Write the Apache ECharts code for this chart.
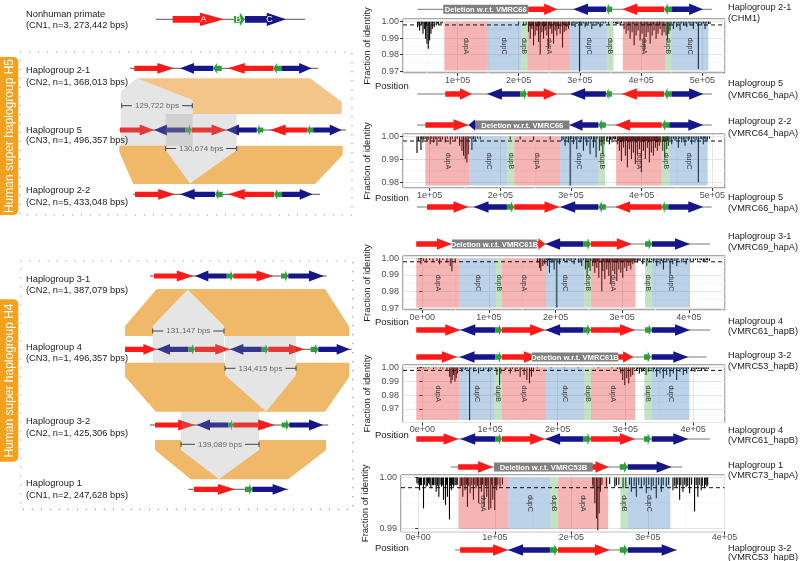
<!DOCTYPE html>
<html><head><meta charset="utf-8">
<script src="https://cdn.jsdelivr.net/npm/echarts@6/dist/echarts.min.js"></script>
<style>html,body{margin:0;padding:0;background:#fff}#c{width:800px;height:561px}</style>
</head><body><div id="c"></div>
<script>
// ================= DATA =================
// ---- right panels: identity bars [position bp, fraction of identity] ----
const P1_BARS = [
[34800,.9966],[38100,.9946],[40800,.9976],[43500,.9926],[45700,.9956],[47900,.9896],[50100,.9866],[52200,.9836],[54400,.9886],[56600,.9926],[58800,.9956],[62000,.9966],[65300,.9976],[69100,.998],[72900,.9986],
[36000,.9988],[42000,.999],[49000,.9985],[60000,.999],[67000,.9988],[75000,.999],
[199700,.9986],[207900,.9976],[212200,.998],
[216000,.9936],[218800,.9896],[221500,.9956],[224200,.9856],[226900,.9916],[229700,.9946],[232400,.9876],[235100,.980],[237800,.9936],[240500,.9896],[243300,.9946],[246000,.9916],[248700,.9836],[251400,.9956],[254100,.9926],[256900,.9866],[259600,.9946],[262300,.9916],[265000,.9956],[267700,.9926],[271600,.9842],[274300,.9936],[277500,.9946],[281400,.9956],
[217000,.9975],[220000,.997],[223000,.998],[228000,.9975],[231000,.997],[234000,.9978],[239000,.9975],[242000,.997],[245000,.998],[250000,.9975],[253000,.997],[258000,.9978],[261000,.997],[264000,.9975],[269000,.997],[273000,.998],[276000,.9975],[279000,.997],[283000,.998],
[286800,.9976],[292200,.9966],[299300,.9697],[303100,.9976],[308600,.9966],[314000,.9986],[319400,.9956],[327600,.9976],[333100,.9966],
[288500,.9988],[290000,.999],[295000,.9985],[297000,.999],[301000,.9988],[306000,.999],[311000,.9985],[317000,.999],[322000,.9988],[325000,.999],[330000,.9985],[336000,.999],[339000,.9988],[342000,.999],
[346700,.998],[355000,.999],[358000,.9988],[360300,.9986],[362000,.9985],[365700,.9976],[368000,.999],
[372200,.9956],[375500,.9926],[378800,.9946],[382000,.9896],[385300,.9936],[388600,.9856],[391800,.9916],[395100,.9946],[398400,.9886],[401600,.9926],[404900,.9826],[408200,.9906],[411400,.9936],[414700,.9866],[418000,.9916],[421200,.9946],[424500,.9896],[427700,.9926],[431000,.9956],[434300,.9916],[437500,.9936],
[380000,.998],[387000,.9985],[393000,.998],[400000,.9982],[406000,.998],[410000,.9975],[416000,.998],[420000,.9982],[426000,.998],[430000,.9978],[436000,.998],
[440800,.9916],[443000,.9886],[445200,.9926],[447300,.9946],
[452800,.9956],[458200,.9966],[463700,.9946],[469100,.9976],[474600,.9966],[480000,.9976],[485400,.9956],[493600,.9712],[499000,.9976],[504500,.9956],[512600,.9986],
[449000,.9985],[455000,.999],[461000,.9988],[466000,.999],[472000,.9985],[478000,.999],[483000,.9988],[488000,.999],[491000,.9985],[496000,.999],[502000,.9988],[507000,.999],[510000,.9985]
];
const P2_BARS = [
[82100,.9928],[84400,.998],[87700,.9941],[90500,.9973],
[96200,.998],[100900,.9966],[105600,.9973],[110300,.9959],[115000,.998],[122100,.9973],[129200,.9966],[136200,.998],[142400,.9959],[145700,.9937],[148000,.9915],[150400,.9901],[152700,.9886],[154600,.9922],
[159800,.9941],[164500,.998],[171600,.9987],[214000,.9987],[228100,.9987],[247000,.9983],[270500,.9987],
[287000,.998],[291700,.9959],[296400,.9973],[298800,.9785],[303500,.9966],[308200,.9944],[312900,.9973],[317600,.9937],[322300,.9959],[327000,.9922],[331800,.9951],[335500,.9908],
[340200,.9937],[342600,.9959],[345000,.9922],[346800,.9966],
[350600,.998],[354400,.9966],[358100,.9973],[361900,.9987],
[365700,.9966],[368500,.9937],[371300,.9893],[374200,.9951],[377000,.9915],[379800,.9864],[382600,.9944],[385500,.9901],[388300,.993],[391100,.9879],[393900,.9922],[396800,.9944],[399600,.9843],[402400,.9937],[405200,.9901],[408100,.9951],[410900,.9886],[413700,.993],[416600,.9915],[419400,.9951],[422200,.9937],[425000,.9959],
[429700,.9937],[432600,.9908],[435400,.9944],[437800,.9959],
[442500,.9966],[447200,.998],[451900,.9951],[456600,.9973],[461300,.9959],[466000,.998],[470700,.9966],[475400,.9973],[480200,.9799],[487200,.9966],[491000,.998],
[88000,.999],[92000,.9988],[94500,.999],[98000,.9985],[103000,.999],[108000,.9988],[113000,.999],[118000,.9985],[125000,.999],[132000,.9988],[139000,.999],[157000,.999],[162000,.9988],[168000,.999],
[289000,.9985],[294000,.999],[299500,.9988],[301000,.999],[306000,.9985],[310000,.999],[315000,.9988],[320000,.9985],[325000,.999],[329000,.9988],[333000,.9985],[337000,.999],[343000,.9985],[347000,.998],[352000,.999],[356000,.9985],[360000,.999],[363000,.9988],
[367000,.998],[370000,.9975],[373000,.998],[376000,.9978],[378500,.998],[381000,.9975],[384000,.998],[387000,.9978],[390000,.998],[392500,.9975],[395500,.998],[398000,.9975],[401000,.998],[404000,.9978],[407000,.998],[409500,.9975],[412000,.998],[415000,.9978],[418000,.998],[421000,.9975],[424000,.998],[427000,.9975],[431000,.998],[434000,.9978],[436500,.998],
[440000,.9985],[445000,.999],[449000,.9988],[454000,.999],[459000,.9985],[464000,.999],[468000,.9988],[473000,.999],[478000,.9985],[483000,.999],[485000,.9988],[489000,.999],[493000,.9985],[496000,.999]
];
const P3_BARS = [
[-5500,.9995],[-2000,.9965],[2000,.9985],[6000,.9975],[11000,.9991],[16000,.9979],[22000,.9985],[26000,.9965],[31000,.9991],[37000,.9975],[42000,.9955],[44500,.9922],[49500,.9975],
[172900,.9975],[175900,.9944],[177900,.9924],[180900,.9955],[183900,.9965],
[187900,.9955],[190900,.9914],[194400,.9975],[197900,.9934],[201900,.9703],[205900,.9965],[211900,.9985],[216900,.9975],[221900,.9985],[227900,.9965],[234400,.9975],[239400,.9955],
[244900,.9934],[247400,.9894],[249900,.9944],[251900,.9924],
[255900,.9955],[258900,.9914],[261900,.9944],[264900,.9884],[269400,.9801],[270900,.9924],[273900,.9874],[276900,.9934],[279900,.9894],[282900,.9844],[285900,.9924],[288900,.9904],[291900,.9864],[294900,.9934],[297900,.9914],[300900,.9884],[303900,.9944],[306900,.9924],[309900,.9955],[312900,.9934],[315900,.9965],[318900,.9975],
[322900,.9975],[326900,.9985],[330900,.9965],
[336900,.9955],[340900,.9975],
[346900,.9975],[351900,.9955],[356900,.9965],[361900,.9934],[366900,.9975],[371900,.9902],[375900,.9965],[381900,.9955],[389400,.9975],[395900,.9965],
[406800,.9985],[416800,.9991],[421800,.9979],[426800,.9991],[430800,.9985],
[186000,.999],[189500,.9988],[192500,.999],[196000,.9985],[199500,.999],[203500,.9988],[208000,.999],[213000,.9985],[219000,.999],[224000,.9988],[230000,.999],[237000,.9985],[242000,.999],[246000,.998],
[253000,.9985],[257000,.998],[260000,.9975],[263000,.998],[266500,.9975],[272000,.998],[275500,.9975],[278000,.998],[281000,.9975],[284500,.998],[287500,.9978],[290500,.998],[293000,.9975],[296500,.998],[299500,.9978],[302500,.998],[305500,.9978],[308500,.998],[311500,.9985],[314500,.998],[317500,.9985],[320500,.999],
[325000,.9988],[333000,.999],[338000,.9985],[344000,.999],[349000,.9988],[354000,.999],[359000,.9985],[364000,.999],[369000,.9988],[374000,.999],[379000,.9985],[384000,.999],[392000,.9988],[398000,.999],[402000,.9985],[410000,.999],[413000,.9988],[419000,.999],[424000,.9985],[428000,.999]
];
const P4_BARS = [
[-6900,.999],[-2900,.9995],
[2000,.9994],[9300,.9995],[16700,.999],[26600,.9994],[36400,.9982],[40300,.9934],[42300,.9885],[44200,.991],[46200,.9946],[48200,.9897],[50100,.9922],[52100,.9958],
[58500,.997],[63400,.9982],[69800,.9618],[75700,.997],[83100,.9958],[90500,.9975],[97800,.997],[102700,.9982],
[110100,.9946],[114100,.9873],[116000,.9958],
[122400,.9982],[129800,.9958],[137200,.997],[144500,.9934],[150400,.9946],[154400,.991],[158300,.9885],[161200,.9934],[164200,.997],
[293000,.9958],[295900,.991],[298900,.9873],[301900,.9922],[304800,.9885],[307800,.9934],[310700,.9946],
[316600,.9982],[320500,.9958],[324000,.997],[326400,.9975],
[330400,.9946],[333800,.997],
[341200,.997],[346100,.9934],[351000,.9958],[355900,.9922],[360800,.9946],[365800,.9934],[370700,.9958],[375600,.991],[380500,.997],[385400,.9946],[390300,.9958],
[397700,.9982],[402600,.997],[407500,.999],[412500,.9975],[417400,.9982],[422300,.999],
[5000,.9995],[20000,.9995],[30000,.9992],[56000,.999],[60000,.9992],[66000,.999],[72000,.9992],[78000,.999],[86000,.9992],[94000,.999],[100000,.9992],[108000,.999],[125000,.9992],[133000,.999],[140000,.9992],[147000,.999],
[170000,.9995],[190000,.9995],[210000,.9995],[230000,.9995],[260000,.9995],[280000,.9995],[288000,.999],[291000,.9992],[313000,.999],[318000,.999],[322000,.9992],[328000,.999],[336000,.9992],[339000,.999],
[343000,.999],[348000,.9992],[353000,.999],[358000,.9992],[363000,.999],[368000,.9992],[373000,.999],[378000,.9992],[383000,.999],[388000,.9992],[393000,.999],[400000,.9992],[405000,.999],[410000,.9992],[415000,.999],[420000,.9992]
];
const P5_BARS = [
[-1700,.9989],[1700,.9975],[4300,.9985],[6900,.9939],[10400,.9982],[13500,.9989],[16500,.9979],[20000,.9985],[23400,.9972],[26900,.9962],[30400,.9982],[33000,.9956],[35600,.9946],[38200,.9962],[40800,.9917],[43400,.9975],[46000,.9982],[49500,.9985],
[54700,.9982],[58200,.9962],[61200,.9975],[64300,.9942],[67800,.9969],[72100,.9956],[75600,.9979],[79000,.9949],[82500,.9972],[86000,.9942],[89500,.9962],[92100,.9936],[94700,.9939],[97300,.9956],[99900,.9936],[102500,.9975],[106800,.9982],
[228400,.9979],[230600,.9949],[232800,.9919],[234500,.9896],[236300,.9929],[238000,.9972],[245800,.9982],
[256700,.9982],[258800,.9985],[267500,.9979],[271000,.9982],
[278400,.9972],[284900,.9962],[291400,.9979],[297900,.9969],[304400,.9975],[310900,.9959],[317500,.9972],[324000,.9982],
[332700,.9975],[337000,.9979],[341400,.9956],[345700,.9972],[350000,.9982],[354400,.9969],[360900,.9933],[365200,.9962],[369600,.9975],[373900,.9979],[377000,.9982],
[0,.9986],[3000,.9985],[8000,.9986],[12000,.9984],[15000,.9986],[18500,.9985],[22000,.9986],[25000,.9984],[28500,.9986],[32000,.9985],[37000,.9986],[42000,.9984],[45000,.9986],[48000,.9985],[51000,.9986],
[56500,.9984],[60000,.9985],[63000,.9986],[66000,.9984],[70000,.9985],[74000,.9986],[77500,.9984],[81000,.9985],[84000,.9986],[88000,.9984],[91000,.9985],[96000,.9986],[101000,.9984],[104000,.9986],[110000,.9986],
[228000,.9986],[240000,.9986],[250000,.9987],[262000,.9986],[276000,.9986],[282000,.9984],[288000,.9986],[295000,.9985],[301000,.9986],[307000,.9984],[314000,.9986],[320000,.9985],[327000,.9986],
[335000,.9984],[339000,.9986],[343000,.9985],[348000,.9986],[352000,.9984],[357000,.9986],[363000,.9985],[367000,.9986],[371000,.9984],[375500,.9986],[378000,.9985]
];

// ---- duplicon rectangles [start, end, name] ----
const P1_DUPS = [[78400,148100,'dupA'],[148100,203600,'dupC'],[203600,214400,'dupB'],[214400,284100,'dupA'],[284100,344000,'dupC'],[344000,354800,'dupB'],[370100,439200,'dupA'],[439200,450100,'dupB'],[450100,509900,'dupC']];
const P2_DUPS = [[93900,156500,'dupA'],[156500,210200,'dupC'],[210200,219700,'dupB'],[219700,284700,'dupA'],[284700,338800,'dupC'],[338800,348300,'dupB'],[363800,428400,'dupA'],[428400,439200,'dupB'],[439200,493400,'dupC']];
const P3_DUPS = [[-9000,55900,'dupA'],[55900,110500,'dupC'],[110500,119500,'dupB'],[119500,185900,'dupA'],[185900,243300,'dupC'],[243300,253400,'dupB'],[253400,319800,'dupA'],[334300,344400,'dupB'],[344400,401300,'dupC']];
const P4_DUPS = [[-8850,55000,'dupA'],[55000,106600,'dupC'],[106600,117500,'dupB'],[117500,182400,'dupA'],[182400,238900,'dupC'],[238900,249300,'dupB'],[249300,314200,'dupA'],[327900,338800,'dupB'],[338800,394300,'dupC']];
const P5_DUPS = [[52500,117700,'dupA'],[117700,172900,'dupC'],[172900,182800,'dupB'],[182800,248000,'dupA'],[264100,274000,'dupB'],[274000,329300,'dupC']];
const DUP_MIN = [0.9703, 0.9785, 0.9703, 0.962, 0.9898];   // lower end of shaded rectangles
const THRESH = 0.998;

// ---- axis ranges ----
const X_RANGES = [[10900,537100],[62300,517900],[-28900,454300],[-28500,447000],[-22500,400000]];
const Y_RANGES = [[0.9688,1.0016],[0.97743,1.00107],[0.9688,1.0015],[0.9601,1.0019],[0.98929,1.00051]];
const X_MINOR = [[50000,150000,250000,350000,450000],[150000,250000,350000,450000],[50000,150000,250000,350000,450000],[50000,150000,250000,350000],[50000,150000,250000,350000]];
const Y_MINOR = [[0.975,0.985,0.995],[0.985,0.995],[0.975,0.985,0.995],[0.965,0.975,0.985,0.995],[0.995]];

// ---- gene tracks above / below panels [start, end, strand, kind, label] ----
const P1_TOP = [[34300,515900,0,'L'],[215500,262900,1,'A'],[289000,342900,-1,'C'],[342900,352700,-1,'B'],[369000,437600,-1,'A'],[437600,450600,-1,'B'],[450600,501200,1,'C'],[76700,215500,0,'D','Deletion w.r.t. VMRC66']];
const P1_BOT = [[34300,515900,0,'L'],[80000,123600,1,'A'],[148100,202400,-1,'C'],[202400,213400,1,'B'],[214400,262400,1,'A'],[284100,342400,-1,'C'],[342400,352200,-1,'B'],[368500,437600,-1,'A'],[437600,450100,-1,'B'],[450100,501700,1,'C']];
const P2_TOP = [[82100,499100,0,'L'],[93900,155000,1,'A'],[155000,176000,-1,'C'],[297800,338800,-1,'C'],[338800,349200,-1,'B'],[362400,428400,-1,'A'],[428400,439100,-1,'B'],[439100,487200,1,'C'],[164500,297800,0,'D','Deletion w.r.t. VMRC66']];
const P2_BOT = [[82100,499100,0,'L'],[96300,155000,1,'A'],[162100,209300,-1,'C'],[209300,219600,1,'B'],[219600,283700,1,'A'],[284700,338800,-1,'C'],[338800,349200,-1,'B'],[362400,428400,-1,'A'],[428400,437700,-1,'B'],[437700,487200,1,'C']];
const P3_TOP = [[-9000,431800,0,'L'],[-9000,44500,1,'A'],[162000,184400,1,'A'],[184400,241800,-1,'C'],[241800,252900,1,'B'],[252900,314400,1,'A'],[334300,344400,1,'B'],[344400,401800,1,'C'],[44500,172000,0,'D','Deletion w.r.t. VMRC61B']];
const P3_BOT = [[-9000,431800,0,'L'],[-9000,57000,1,'A'],[57000,109400,-1,'C'],[109400,119500,1,'B'],[119500,184400,1,'A'],[184400,241800,-1,'C'],[241800,252900,1,'B'],[252900,319300,1,'A'],[334300,344400,1,'B'],[344400,401800,1,'C']];
const P4_TOP = [[-8800,419900,0,'L'],[-8800,51200,1,'A'],[55000,107700,-1,'C'],[107700,117500,1,'B'],[117500,172000,1,'A'],[278000,311600,1,'A'],[327400,337300,1,'B'],[338800,392800,1,'C'],[161800,289500,0,'D','Deletion w.r.t. VMRC61B']];
const P4_BOT = [[-8800,424800,0,'L'],[-8800,53500,1,'A'],[56000,107700,-1,'C'],[107700,117500,1,'B'],[117500,181400,1,'A'],[181400,237900,-1,'C'],[237900,248800,1,'B'],[248800,314200,1,'A'],[327400,337300,1,'B'],[338800,392800,1,'C']];
const P5_TOP = [[42600,344900,0,'L'],[52100,97700,1,'A'],[210000,248900,1,'A'],[263200,273600,1,'B'],[273600,330900,1,'C'],[99000,228000,0,'D','Deletion w.r.t. VMRC53B']];
const P5_BOT = [[48200,337500,0,'L'],[54700,117300,1,'A'],[117300,172000,-1,'C'],[172000,182400,1,'B'],[182400,250200,1,'A'],[263200,273600,1,'B'],[273600,337500,1,'C']];

const RIGHT_NAMES = [
 [['Haplogroup 2-1','(CHM1)'],['Haplogroup 5','(VMRC66_hapA)']],
 [['Haplogroup 2-2','(VMRC64_hapA)'],['Haplogroup 5','(VMRC66_hapA)']],
 [['Haplogroup 3-1','(VMRC69_hapA)'],['Haplogroup 4','(VMRC61_hapB)']],
 [['Haplogroup 3-2','(VMRC53_hapB)'],['Haplogroup 4','(VMRC61_hapB)']],
 [['Haplogroup 1','(VMRC73_hapA)'],['Haplogroup 3-2','(VMRC53_hapB)']]
];

// ---- left schematic (schematic units) ----
const L_NHP = [[156,305,0,'L'],[172.7,224,1,'A'],[234,245,1,'B'],[245,286,1,'C']];
const L_H21 = [[130,318.3,0,'L'],[134.3,174,1,'A'],[180,213.3,-1,'C'],[213.3,221.7,-1,'B'],[227.7,273.3,-1,'A'],[273.3,281.7,-1,'B'],[281.7,311.7,1,'C']];
const L_H5  = [[119.3,346,0,'L'],[120,154,1,'A'],[154,185,-1,'C'],[185,191.7,1,'B'],[191.7,226,1,'A'],[226,256.7,-1,'C'],[256.7,263.3,-1,'B'],[270,307.3,-1,'A'],[307.3,313.3,-1,'B'],[313.3,341.7,1,'C']];
const L_H22 = [[133.3,320,0,'L'],[135,175,1,'A'],[180,215,-1,'C'],[215,222.7,-1,'B'],[227.7,274,-1,'A'],[274,281.7,-1,'B'],[281.7,312.7,1,'C']];
const L_H31 = [[150,326.7,0,'L'],[154,193.3,1,'A'],[195,226.7,-1,'C'],[226.7,233.3,1,'B'],[233.3,273.3,1,'A'],[281,288.3,1,'B'],[288.3,324,1,'C']];
const L_H4  = [[125,351.7,0,'L'],[125,156.7,1,'A'],[156.7,188.3,-1,'C'],[188.3,195,1,'B'],[195,230,1,'A'],[230,261.7,-1,'C'],[261.7,268.3,1,'B'],[268.3,304,1,'A'],[310.7,318.3,1,'B'],[318.3,350,1,'C']];
const L_H32 = [[150,328.3,0,'L'],[155,195,1,'A'],[196.7,228.3,-1,'C'],[228.3,233.3,1,'B'],[233.3,275,1,'A'],[281.7,289.3,1,'B'],[289.3,323.3,1,'C']];
const L_H1  = [[188.3,288.3,0,'L'],[194,235,1,'A'],[245,252.3,1,'B'],[252.3,287.3,1,'C']];
const L_TRACK_ROWS = [19.3, 68.3, 130, 194.3, 276, 349.3, 425, 489.3];
const L_NAMES = [
 ['Nonhuman primate','(CN1, n=3, 273,442 bps)'],
 ['Haplogroup 2-1','(CN2, n=1, 368,013 bps)'],
 ['Haplogroup 5','(CN3, n=1, 496,357 bps)'],
 ['Haplogroup 2-2','(CN2, n=5, 433,048 bps)'],
 ['Haplogroup 3-1','(CN2, n=1, 387,079 bps)'],
 ['Haplogroup 4','(CN3, n=1, 496,357 bps)'],
 ['Haplogroup 3-2','(CN2, n=1, 425,306 bps)'],
 ['Haplogroup 1','(CN1, n=2, 247,628 bps)']
];
const ORANGE_POLYS = [
 [[136.7,78.3],[310,78.3],[341.7,101.7],[341.7,114],[192.7,114],[192.7,100]],
 [[119.3,145.7],[165.7,145.7],[165.7,150],[190,183.5],[236.7,150],[236.7,145.7],[342.7,145.7],[342.7,155],[315,184],[133.3,184],[119.3,152]],
 [[125,336],[125,326],[156.7,289],[325,289],[349.3,326.7],[349.3,336],[224,336],[224,326],[187.7,289.6],[152.7,326],[152.7,336]],
 [[125,362.7],[225,362.7],[225,375],[266,411.4],[296,375],[296,362.7],[349.3,362.7],[349.3,376.7],[325,411.7],[156,411.7],[125,376.7]],
 [[155,440],[181,440],[181,450],[219,479],[259,450],[259,440],[326,440],[326,450],[288.3,479.3],[190.7,479.3],[155,450]]
];
const GRAY_POLYS = [
 [[120.7,91.7],[136.7,78.3],[192.7,100],[192.7,145.7],[120.7,145.7]],
 [[165.7,114],[236.7,114],[236.7,150],[190,183.5],[165.7,150]],
 [[152.7,326],[187.7,289.6],[224,326],[224,362.7],[152.7,362.7]],
 [[225,336],[296,336],[296,375],[266,411.4],[225,375]],
 [[181,411.7],[259,411.7],[259,450],[219,479],[181,450]]
];
const BRACKETS = [[121.7,192.3,105.7,'129,722 bps'],[165.7,236.7,148.5,'130,674 bps'],[152.7,224,331,'131,147 bps'],[225,296,368.3,'134,415 bps'],[181,259,444.3,'139,089 bps']];
const GROUP_LABELS = ['Human super haplogroup H5','Human super haplogroup H4'];

// ================= STYLE / LAYOUT =================
const FONT = '"Liberation Sans", Arial, Helvetica, sans-serif';
const COL = {A:'#FF1A1A', B:'#2E9E3A', C:'#16168A'};
const DUPFILL = {dupA:'rgba(232,60,60,0.38)', dupB:'rgba(90,180,90,0.36)', dupC:'rgba(70,130,190,0.36)'};
const ORANGE_FILLS = ['#F4C588','#F0B96A','#F0B96A','#F0B96A','#F0B96A'];
const BOXES = [[403,19,322,54],[403,134,322,54],[403,256,322,54],[403,365,322,57.5],[401,475,323.5,56.7]];
const TRACK_Y = [[9.3,94],[125,207],[244,330],[357,439],[467,550]];
const LABEL_Y = [[[7.5,18],[83,95]],[[121,133],[197,208]],[[236,247],[321,331]],[[355,366],[430,440]],[[465,475],[548,557]]];
const POS_Y = [86,198,322,435,548];
const Y_SPLIT = [3,3,3,4,1];
const LBL_MARGIN = [3,3,3,3,1.5];
const L_TEXT_Y = [[14,25],[70.7,82.3],[130,140.7],[190,202.3],[279.3,290],[347.7,358.7],[421.7,433.3],[483.3,495.3]];

const BARS = [P1_BARS,P2_BARS,P3_BARS,P4_BARS,P5_BARS];
const DUPS = [P1_DUPS,P2_DUPS,P3_DUPS,P4_DUPS,P5_DUPS];
const TRACKS = [[P1_TOP,P1_BOT],[P2_TOP,P2_BOT],[P3_TOP,P3_BOT],[P4_TOP,P4_BOT],[P5_TOP,P5_BOT]];
const L_TRACKS = [L_NHP,L_H21,L_H5,L_H22,L_H31,L_H4,L_H32,L_H1];

function arrowPts(a, b, dir, y, hb, hh, hl) {
  if (dir > 0) return [[a,y-hb],[b-hl,y-hb],[b-hl,y-hh],[b,y],[b-hl,y+hh],[b-hl,y+hb],[a,y+hb]];
  return [[b,y-hb],[a+hl,y-hb],[a+hl,y-hh],[a,y],[a+hl,y+hh],[a+hl,y+hb],[b,y+hb]];
}
function trackRender(rows, yVal, sty) {
  return function (params, api) {
    const r = rows[params.dataIndex];
    const p0 = api.coord([r[0], yVal]), p1 = api.coord([r[1], yVal]);
    const y = p0[1];
    const a = Math.min(p0[0], p1[0]), b = Math.max(p0[0], p1[0]);
    if (r[3] === 'L') return {type:'line', shape:{x1:a,y1:y,x2:b,y2:y}, style:{stroke:sty.line, lineWidth:1}};
    if (r[3] === 'D') return {type:'group', children:[
      {type:'rect', shape:{x:a,y:y-sty.dh,width:b-a,height:2*sty.dh}, style:{fill:'#808080'}},
      {type:'text', x:(a+b)/2, y:y+0.5, style:{text:r[4], fill:'#fff', fontSize:7.6, fontWeight:'bold', fontFamily:FONT, align:'center', verticalAlign:'middle'}}]};
    const hl = Math.min(sty.hlMax, (b-a)*sty.hlFrac);
    const ch = [{type:'polygon', shape:{points:arrowPts(a,b,r[2],y,sty.hb,sty.hh,hl)}, style:{fill:COL[r[3]]}}];
    if (sty.letters) {
      const f = r[3] === 'B' ? 0.38 : 0.6;
      ch.push({type:'text', x:a+(b-a)*f, y:y+0.5, style:{text:r[3], fill:'#fff', fontSize:9, fontFamily:FONT, align:'center', verticalAlign:'middle'}});
    }
    return {type:'group', children:ch};
  };
}

const option = {animation:false, backgroundColor:'#fff', textStyle:{fontFamily:FONT}, grid:[], xAxis:[], yAxis:[], series:[], graphic:[]};

// ---- left schematic grid ----
option.grid.push({left:0, top:0, width:360, height:561, show:false});
option.xAxis.push({gridIndex:0, type:'value', min:0, max:360, show:false});
option.yAxis.push({gridIndex:0, type:'value', min:0, max:561, inverse:true, show:false});
option.series.push({type:'custom', xAxisIndex:0, yAxisIndex:0, z:1, silent:true,
  data:ORANGE_POLYS.map(p=>p[0]),
  renderItem:(params, api)=>({type:'polygon', shape:{points:ORANGE_POLYS[params.dataIndex].map(pt=>api.coord(pt))}, style:{fill:ORANGE_FILLS[params.dataIndex]}})});
const L_STY = {hb:2.6, hh:5.4, hlMax:17, hlFrac:0.42, line:'#555', dh:4};
const NHP_STY = {hb:3.4, hh:6.6, hlMax:24, hlFrac:0.47, line:'#555', dh:4, letters:true};
L_TRACKS.forEach((rows, i) => {
  option.series.push({type:'custom', xAxisIndex:0, yAxisIndex:0, z:2, silent:true,
    data:rows.map(r=>[r[0], L_TRACK_ROWS[i]]),
    renderItem:trackRender(rows, L_TRACK_ROWS[i], i === 0 ? NHP_STY : L_STY)});
});
option.series.push({type:'custom', xAxisIndex:0, yAxisIndex:0, z:3, silent:true,
  data:GRAY_POLYS.map(p=>p[0]),
  renderItem:(params, api)=>({type:'polygon', shape:{points:GRAY_POLYS[params.dataIndex].map(pt=>api.coord(pt))}, style:{fill:'rgba(150,150,150,0.25)'}})});
option.series.push({type:'custom', xAxisIndex:0, yAxisIndex:0, z:4, silent:true,
  data:BRACKETS.map(b=>[b[0], b[2]]),
  renderItem:(params, api)=>{
    const b = BRACKETS[params.dataIndex];
    const p0 = api.coord([b[0], b[2]]), p1 = api.coord([b[1], b[2]]);
    const y = p0[1], seg = Math.max(4, (p1[0]-p0[0]-50)/2);
    const st = {stroke:'#444', lineWidth:1};
    return {type:'group', children:[
      {type:'line', shape:{x1:p0[0],y1:y,x2:p0[0]+seg,y2:y}, style:st},
      {type:'line', shape:{x1:p0[0],y1:y-2.5,x2:p0[0],y2:y+2.5}, style:st},
      {type:'line', shape:{x1:p1[0]-seg,y1:y,x2:p1[0],y2:y}, style:st},
      {type:'line', shape:{x1:p1[0],y1:y-2.5,x2:p1[0],y2:y+2.5}, style:st},
      {type:'text', x:(p0[0]+p1[0])/2, y:y, style:{text:b[3], fill:'#666', fontSize:8, fontFamily:FONT, align:'center', verticalAlign:'middle'}}]};
  }});

// ---- right panels ----
const R_STY = {hb:2.8, hh:5.8, hlMax:15, hlFrac:0.45, line:'#777', dh:4.5};
function fmtX(v){ return v === 0 ? '0e+00' : (v/1e5) + 'e+05'; }
BOXES.forEach((box, i) => {
  const g = option.grid.length;
  const [xr, yr] = [X_RANGES[i], Y_RANGES[i]];
  option.grid.push({left:box[0], top:box[1], width:box[2], height:box[3], show:true, borderColor:'#555', borderWidth:1, backgroundColor:'#fff'});
  const tick = {show:true, length:3, lineStyle:{color:'#333', width:1}};
  option.xAxis.push({gridIndex:g, type:'value', min:xr[0], max:xr[1], splitNumber:5,
    axisLine:{show:false}, axisTick:tick,
    axisLabel:{fontSize:9, color:'#4d4d4d', fontFamily:FONT, margin:LBL_MARGIN[i], showMinLabel:false, showMaxLabel:i===4, formatter:fmtX},
    splitLine:{show:true, lineStyle:{color:'#E4E4E4', width:1}}});
  option.yAxis.push({gridIndex:g, type:'value', min:yr[0], max:yr[1], splitNumber:Y_SPLIT[i],
    axisLine:{show:false}, axisTick:tick,
    axisLabel:{fontSize:9, color:'#4d4d4d', fontFamily:FONT, margin:4, showMinLabel:false, showMaxLabel:false, formatter:v=>v.toFixed(2)},
    splitLine:{show:true, lineStyle:{color:'#E4E4E4', width:1}},
    name:'Fraction of identity', nameLocation:'middle', nameGap:31, nameRotate:90,
    nameTextStyle:{fontSize:9.5, color:'#222', fontFamily:FONT}});
  // minor grid
  option.series.push({type:'custom', xAxisIndex:g, yAxisIndex:g, z:1, silent:true,
    data:X_MINOR[i].map(v=>[v, yr[0]]),
    renderItem:(params, api)=>{const cs=params.coordSys; const c=api.coord([api.value(0), api.value(1)]);
      return {type:'line', shape:{x1:c[0],y1:cs.y,x2:c[0],y2:cs.y+cs.height}, style:{stroke:'#F3F3F3', lineWidth:0.8}};}});
  option.series.push({type:'custom', xAxisIndex:g, yAxisIndex:g, z:1, silent:true,
    data:Y_MINOR[i].map(v=>[xr[0], v]),
    renderItem:(params, api)=>{const cs=params.coordSys; const c=api.coord([api.value(0), api.value(1)]);
      return {type:'line', shape:{x1:cs.x,y1:c[1],x2:cs.x+cs.width,y2:c[1]}, style:{stroke:'#F3F3F3', lineWidth:0.8}};}});
  // identity bars
  option.series.push({type:'custom', xAxisIndex:g, yAxisIndex:g, z:2, silent:true,
    data:BARS[i],
    renderItem:(params, api)=>{const p0=api.coord([api.value(0), 1.0]); const p1=api.coord([api.value(0), api.value(1)]);
      return {type:'line', shape:{x1:p0[0],y1:p0[1],x2:p1[0],y2:p1[1]}, style:{stroke:'#000', lineWidth:1.1}};}});
  // duplicon rectangles
  const dups = DUPS[i], dmin = DUP_MIN[i];
  option.series.push({type:'custom', xAxisIndex:g, yAxisIndex:g, z:3, silent:true,
    data:dups.map(d=>[d[0], d[1]]),
    renderItem:(params, api)=>{const d=dups[params.dataIndex];
      const p0=api.coord([d[0], 1.0]), p1=api.coord([d[1], dmin]);
      return {type:'group', children:[
        {type:'rect', shape:{x:p0[0], y:p0[1], width:p1[0]-p0[0], height:p1[1]-p0[1]}, style:{fill:DUPFILL[d[2]]}},
        {type:'text', x:(p0[0]+p1[0])/2, y:(p0[1]+p1[1])/2, rotation:-Math.PI/2,
          style:{text:d[2], fill:'#333', fontSize:7, fontFamily:FONT, align:'center', verticalAlign:'middle'}}]};}});
  // threshold
  option.series.push({type:'custom', xAxisIndex:g, yAxisIndex:g, z:4, silent:true,
    data:[[xr[0], THRESH]],
    renderItem:(params, api)=>{const cs=params.coordSys; const c=api.coord([api.value(0), api.value(1)]);
      return {type:'line', shape:{x1:cs.x,y1:c[1],x2:cs.x+cs.width,y2:c[1]}, style:{stroke:'#111', lineWidth:1, lineDash:[4,3]}};}});
  // tracks
  [0,1].forEach(k => {
    const tg = option.grid.length;
    option.grid.push({left:box[0], top:TRACK_Y[i][k]-8, width:box[2], height:16, show:false});
    option.xAxis.push({gridIndex:tg, type:'value', min:xr[0], max:xr[1], show:false});
    option.yAxis.push({gridIndex:tg, type:'value', min:-1, max:1, show:false});
    const rows = TRACKS[i][k];
    option.series.push({type:'custom', xAxisIndex:tg, yAxisIndex:tg, z:2, silent:true,
      data:rows.map(r=>[r[0], 0]), renderItem:trackRender(rows, 0, R_STY)});
  });
});

// ---- text / frames ----
function T(x, y, text, o) {
  o = o || {};
  return {type:'text', x:x, y:y, z:100, rotation:o.rot||0,
    style:{text:text, fill:o.fill||'#1a1a1a', fontSize:o.size||9.3, fontFamily:FONT,
      align:o.align||'left', verticalAlign:'middle', textAlign:o.align||'left', textVerticalAlign:'middle'}};
}
const G = option.graphic;
G.push({type:'rect', z:0, shape:{x:20, y:52, width:332, height:163}, style:{fill:'none', stroke:'#9a9a9a', lineWidth:1.2, lineDash:[1.2,7.8]}});
G.push({type:'rect', z:0, shape:{x:20.7, y:261, width:332, height:248.3}, style:{fill:'none', stroke:'#9a9a9a', lineWidth:1.2, lineDash:[1.2,7.8]}});
G.push({type:'rect', z:50, shape:{x:-6, y:57, width:24.3, height:158, r:5}, style:{fill:'#F5A11C'}});
G.push({type:'rect', z:50, shape:{x:-6, y:299.3, width:24.3, height:162.4, r:5}, style:{fill:'#F5A11C'}});
G.push(T(9.5, 136, GROUP_LABELS[0], {rot:Math.PI/2, fill:'#fff', size:12, align:'center'}));
G.push(T(9.5, 380.5, GROUP_LABELS[1], {rot:Math.PI/2, fill:'#fff', size:12, align:'center'}));
L_NAMES.forEach((n, i) => { G.push(T(26, L_TEXT_Y[i][0], n[0])); G.push(T(26, L_TEXT_Y[i][1], n[1])); });
RIGHT_NAMES.forEach((pair, i) => {
  pair.forEach((n, k) => { G.push(T(728, LABEL_Y[i][k][0], n[0], {size:9.2})); G.push(T(728, LABEL_Y[i][k][1], n[1], {size:9.2})); });
  G.push(T(375, POS_Y[i], 'Position', {size:9.5}));
});

const chart = echarts.init(document.getElementById('c'), null, {renderer:'canvas'});
chart.setOption(option);
</script></body></html>
